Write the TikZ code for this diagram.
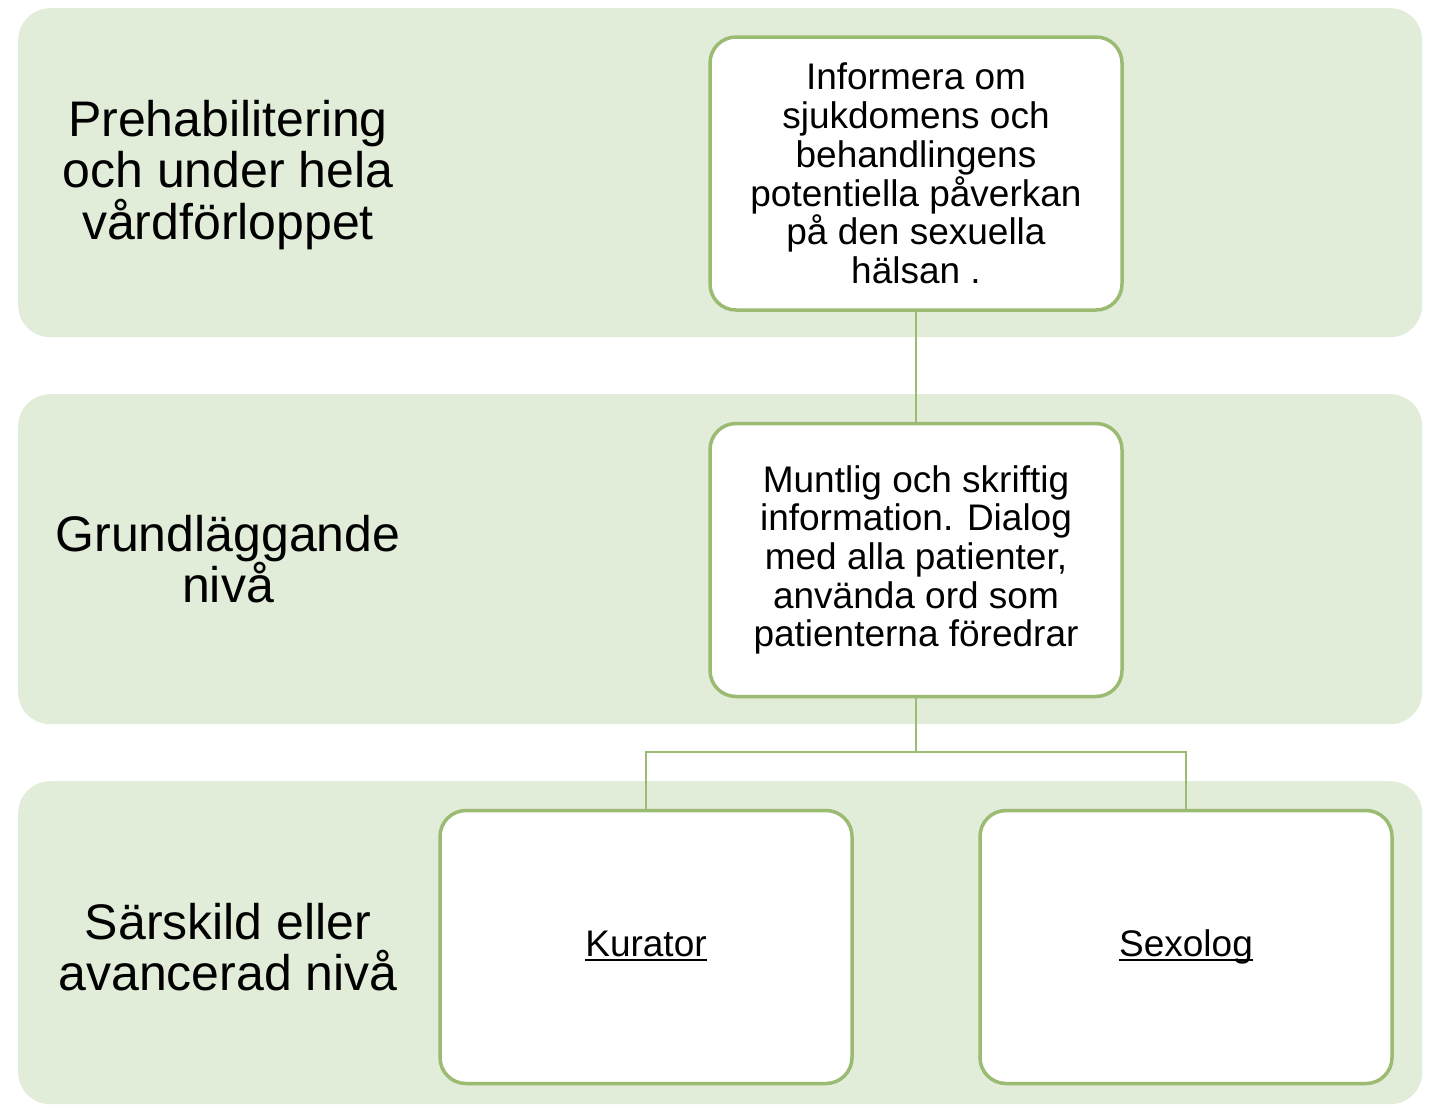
\documentclass[tikz,border=0pt]{standalone}
\usepackage{fontspec}
\setmainfont{Liberation Sans}
\definecolor{bandfill}{RGB}{225,236,217}
\definecolor{boxline}{RGB}{155,187,115}
% underline drawn just below the baseline, crossing descenders
\newcommand\ulword[1]{\leavevmode\setbox0\hbox{#1}\rlap{\rule[-4.5pt]{\wd0}{2.4pt}}\box0}
\begin{document}
\begin{tikzpicture}[x=1pt,y=-1pt,
  band/.style={fill=bandfill,draw=none,rounded corners=32pt,minimum width=1404pt,inner sep=0pt,anchor=north west},
  levellabel/.style={align=center,font=\fontsize{50}{51.5}\selectfont,inner sep=0pt},
  stepbox/.style={draw=boxline,line width=3.5pt,fill=white,rounded corners=26pt,minimum width=412pt,minimum height=273pt,inner sep=0pt,align=center,font=\fontsize{37}{38.7}\selectfont},
  rolebox/.style={stepbox,text height=27pt,text depth=8pt},
  link/.style={draw=boxline,line width=2.6pt}]
\useasboundingbox (0,0) rectangle (1430,1104);
% background bands for the three levels
\node[band,minimum height=329pt] (b1) at (18,8) {};
\node[band,minimum height=330pt] (b2) at (18,394) {};
\node[band,minimum height=323pt] (b3) at (18,781) {};
% level names
\node[levellabel] (l1) at (228,175) {Prehabilitering\\och under hela\\vårdförloppet};
\node[levellabel] (l2) at (228,559) {Grundläggande\\nivå};
\node[levellabel] (l3) at (228,947) {Särskild eller\\avancerad nivå};
% boxes
\node[stepbox] (top) at (916,173.5) {Informera om\\sjukdomens och\\behandlingens\\potentiella påverkan\\på den sexuella\\hälsan .};
\node[stepbox] (mid) at (916,560) {Muntlig och skriftig\\information. Dialog\\med alla patienter,\\använda ord som\\patienterna föredrar};
\node[rolebox] (kur) at (646,947) {\ulword{Kurator}};
\node[rolebox] (sex) at (1186,947) {\ulword{Sexolog}};
% connectors
\coordinate (j) at (916,752);
\path[link] (top.south) -- (mid.north);
\path[link] (mid.south) -- (j) -| (kur.north);
\path[link] (j) -| (sex.north);
\end{tikzpicture}
\end{document}
